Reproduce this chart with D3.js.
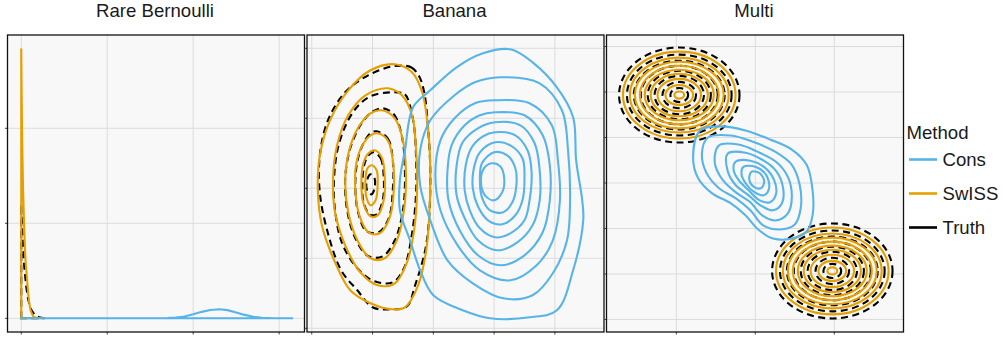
<!DOCTYPE html>
<html>
<head>
<meta charset="utf-8">
<script src="https://cdn.jsdelivr.net/npm/d3@7"></script>
<style>
  body { margin: 0; background: #ffffff; }
  text { font-family: "Liberation Sans", Arial, Helvetica, sans-serif; }
</style>
</head>
<body>
<svg id="chart" width="1003" height="337"></svg>
<script>
// ---- methods / legend ----
const methods = ["Cons", "SwISS", "Truth"];
const methodColors = ["#56B4E9", "#E69F00", "#000000"];
const panelTitles = ["Rare Bernoulli", "Banana", "Multi"];

// ---- Rare Bernoulli: 1-D density estimates ----
const rbTruthX = [0, 0.01, 0.02, 0.03, 0.04, 0.06, 0.08, 0.10, 0.12, 0.15, 0.18, 0.22, 0.26];
const rbTruthD = [12, 9.6, 7.7, 6.1, 4.9, 3.2, 2.0, 1.3, 0.83, 0.43, 0.22, 0.07, 0.02];
const rbSwissX = [0, 0.004, 0.01, 0.02, 0.03, 0.04, 0.05, 0.063, 0.08, 0.093, 0.11, 0.14, 0.18, 0.25];
const rbSwissD = [28.4, 24, 19, 14, 10.8, 8.0, 6.0, 4.6, 2.7, 1.6, 0.8, 0.17, 0.04, 0.01];
const rbConsX = [0, 0.5, 1.0, 1.5, 1.7, 1.8, 1.9, 2.0, 2.1, 2.2, 2.3, 2.4, 2.5, 2.6, 2.7, 2.8, 2.9, 3.0, 3.15];
const rbConsD = [0.005, 0.005, 0.005, 0.01, 0.03, 0.08, 0.2, 0.42, 0.68, 0.88, 0.95, 0.86, 0.62, 0.36, 0.16, 0.06, 0.02, 0.005, 0.003];
const rbXTicks = [0, 1, 2, 3];
const rbYTicks = [0, 10, 20];

// ---- Banana: 2-D density contour levels, one closed ring per level ----
const bananaCons = [
  [[76,139],[98,126],[122,101],[138,71],[141,28],[147,-12],[148,-32],[138,-82],[122,-122],[95,-129],[56,-130],[29,-122],[0,-107],[-13,-82],[-23,-52],[-33,-22],[-33,8],[-28,38],[-20,81],[-3,98],[23,121],[49,135]],
  [[66,111],[105,105],[127,78],[133,38],[135,-12],[132,-52],[118,-85],[98,-107],[69,-110],[39,-95],[14,-72],[-3,-32],[-13,3],[-13,38],[-3,68],[21,93],[41,106]],
  [[61,88],[95,85],[117,63],[123,28],[125,-12],[118,-52],[102,-77],[76,-92],[46,-82],[24,-57],[7,-22],[2,13],[7,48],[21,70],[41,85]],
  [[61,76],[90,73],[108,53],[115,23],[115,-12],[108,-44],[90,-67],[66,-77],[44,-67],[26,-42],[15,-12],[14,18],[18,43],[31,63],[46,73]],
  [[61,66],[86,63],[100,45],[105,18],[105,-12],[98,-37],[83,-54],[63,-62],[44,-52],[31,-30],[23,-7],[23,23],[29,46],[44,60]],
  [[61,56],[81,53],[93,38],[97,16],[95,-12],[90,-32],[76,-45],[61,-49],[46,-40],[36,-22],[31,-2],[32,23],[38,41],[49,52]],
  [[61,46],[76,43],[88,30],[90,10],[88,-12],[81,-27],[68,-36],[54,-32],[44,-18],[39,0],[40,20],[46,36]],
  [[60,36],[73,33],[81,20],[82,3],[78,-14],[69,-24],[56,-22],[48,-9],[46,8],[48,25]],
  [[58,25],[66,22],[70,10],[68,-4],[60,-12],[51,-7],[47,6],[50,20]]
];
const bananaSwiss = [
  [[-38,124],[-21,116],[-11,96],[-5,58],[-3,18],[-4,-27],[-7,-62],[-15,-97],[-28,-119],[-41,-121],[-62,-115],[-82,-102],[-97,-74],[-110,-37],[-114,-2],[-112,33],[-102,68],[-84,98],[-62,118]],
  [[-45,100],[-31,93],[-21,73],[-17,38],[-16,-2],[-19,-42],[-26,-74],[-38,-95],[-55,-97],[-72,-84],[-87,-57],[-97,-24],[-99,8],[-95,43],[-84,73],[-67,93]],
  [[-51,78],[-38,70],[-30,48],[-27,13],[-29,-22],[-36,-52],[-48,-70],[-62,-70],[-75,-52],[-84,-24],[-87,8],[-83,38],[-74,61],[-62,75]],
  [[-55,55],[-45,48],[-40,28],[-39,-2],[-43,-29],[-53,-45],[-64,-44],[-73,-27],[-77,-2],[-76,25],[-70,43],[-62,53]],
  [[-58,38],[-51,31],[-48,13],[-49,-12],[-55,-27],[-62,-28],[-69,-15],[-71,6],[-69,25],[-64,35]],
  [[-61,23],[-56,18],[-55,3],[-57,-12],[-62,-17],[-66,-9],[-67,8],[-65,20]]
];
const bananaTruth = [
  [[-40,122],[-22,121],[-14,112],[-9,96],[-5,58],[-3,18],[-4,-27],[-8,-62],[-18,-97],[-26,-118],[-43,-121],[-60,-119],[-75,-102],[-91,-82],[-104,-45],[-112,-5],[-112,33],[-104,68],[-87,96],[-66,112]],
  [[-42,96],[-28,94],[-24,86],[-19,62],[-17,30],[-17,-5],[-21,-45],[-29,-80],[-40,-94],[-58,-93],[-75,-80],[-90,-55],[-97,-22],[-98,10],[-93,45],[-80,75],[-64,91]],
  [[-50,80],[-39,74],[-31,52],[-28,15],[-30,-22],[-38,-52],[-50,-68],[-64,-68],[-77,-50],[-85,-22],[-87,10],[-82,40],[-72,63],[-61,76]],
  [[-56,57],[-45,50],[-40,28],[-40,-2],[-44,-30],[-54,-44],[-66,-43],[-74,-25],[-77,0],[-75,27],[-69,45],[-62,55]],
  [[-59,36],[-52,30],[-49,12],[-50,-12],[-56,-26],[-63,-26],[-69,-13],[-70,6],[-68,24],[-64,33]],
  [[-62,14],[-58,10],[-58,0],[-61,-6],[-65,-3],[-66,6]]
];
const bananaXTicks = [-120, -60, 0, 60, 120];
const bananaYTicks = [-140, -70, 0, 70, 140];

// ---- Multi: two well separated modes plus the consensus blob ----
const multiCons = [
  [[-56,52],[-35,56],[-10,52],[15,43],[37,33],[52,18],[58,-7],[58,-32],[52,-48],[37,-55],[18,-55],[3,-46],[-10,-32],[-25,-20],[-44,-10],[-58,5],[-63,25]],
  [[-48,45],[-25,47],[-3,41],[20,31],[37,18],[45,-2],[46,-25],[40,-41],[25,-46],[8,-42],[-5,-27],[-20,-15],[-37,-5],[-50,11],[-54,30]],
  [[-37,37],[-17,38],[2,31],[21,21],[33,6],[37,-14],[33,-30],[21,-37],[7,-32],[-5,-19],[-20,-9],[-33,3],[-41,20]],
  [[-28,29],[-10,30],[7,23],[21,12],[28,-4],[27,-20],[18,-27],[5,-22],[-7,-12],[-20,-2],[-28,12]],
  [[-20,21],[-5,22],[10,15],[19,3],[21,-11],[15,-19],[4,-17],[-7,-7],[-17,3],[-22,13]],
  [[-12,16],[0,16],[11,8],[14,-5],[9,-12],[-1,-9],[-10,0],[-14,9]],
  [[-4,11],[4,10],[9,2],[6,-5],[-1,-4],[-6,3]]
];
// mode centres and elliptical contour radii
const multiModeX = [-77, 78];
const multiModeY = [87, -87];
const multiSwissRx = [57, 50, 45, 40, 35, 29, 22, 14, 5];
const multiSwissRy = [43, 37, 33, 29, 25, 21, 16, 10, 3.5];
const multiTruthRx = [61, 53, 46, 39, 32, 25, 17, 9];
const multiTruthRy = [47, 40, 34, 29, 24, 19, 13, 7];
const multiXTicks = [-80, 0, 80];
const multiYTicks = [-135, -90, -45, 0, 45, 90, 135];

// ---- layout ----
const W = 1003, H = 337;
const panelLeft = [7.5, 307, 606.5];
const panelTop = 35, panelSize = 297;
const lineW = 2.1;
const dash = "7,4.5";

const svg = d3.select("#chart");
const defs = svg.append("defs");

function makePanel(i, xDomain, yDomain, xTicks, yTicks) {
  const x0 = panelLeft[i];
  const x = d3.scaleLinear().domain(xDomain).range([x0, x0 + panelSize]);
  const y = d3.scaleLinear().domain(yDomain).range([panelTop + panelSize, panelTop]);
  const g = svg.append("g");
  g.append("rect")
    .attr("x", x0).attr("y", panelTop)
    .attr("width", panelSize).attr("height", panelSize)
    .attr("fill", "#f8f8f8");
  g.selectAll(".vg").data(xTicks).join("line")
    .attr("x1", d => x(d)).attr("x2", d => x(d))
    .attr("y1", panelTop).attr("y2", panelTop + panelSize)
    .attr("stroke", "#dcdcdc").attr("stroke-width", 1);
  g.selectAll(".hg").data(yTicks).join("line")
    .attr("y1", d => y(d)).attr("y2", d => y(d))
    .attr("x1", x0).attr("x2", x0 + panelSize)
    .attr("stroke", "#dcdcdc").attr("stroke-width", 1);
  // short axis ticks just outside the panel
  g.selectAll(".xt").data(xTicks).join("line")
    .attr("x1", d => x(d)).attr("x2", d => x(d))
    .attr("y1", panelTop + panelSize).attr("y2", panelTop + panelSize + 2.5)
    .attr("stroke", "#444").attr("stroke-width", 1);
  g.selectAll(".yt").data(yTicks).join("line")
    .attr("y1", d => y(d)).attr("y2", d => y(d))
    .attr("x1", x0 - 2.5).attr("x2", x0)
    .attr("stroke", "#444").attr("stroke-width", 1);
  defs.append("clipPath").attr("id", "clip" + i)
    .append("rect").attr("x", x0).attr("y", panelTop)
    .attr("width", panelSize).attr("height", panelSize);
  const plot = svg.append("g").attr("clip-path", `url(#clip${i})`);
  svg.append("text")
    .attr("x", x0 + panelSize / 2 - 1).attr("y", 17)
    .attr("text-anchor", "middle")
    .attr("font-size", 18.6).attr("fill", "#1a1a1a")
    .text(panelTitles[i]);
  return { x, y, plot, x0 };
}

function frame(p) {
  svg.append("rect")
    .attr("x", p.x0).attr("y", panelTop)
    .attr("width", panelSize).attr("height", panelSize)
    .attr("fill", "none").attr("stroke", "#111").attr("stroke-width", 1.3);
}

// ---- panel 1: Rare Bernoulli ----
const p1 = makePanel(0, [-0.16, 3.295], [-1.44, 29.82], rbXTicks, rbYTicks);
function densityPath(xs, ds) {
  const pts = xs.map((v, k) => [v, ds[k]]);
  const ring = [[xs[0], 0], ...pts, [xs[xs.length - 1], 0]];
  return d3.line().x(d => p1.x(d[0])).y(d => p1.y(d[1]))(ring) + "Z";
}
p1.plot.append("path").attr("d", densityPath(rbTruthX, rbTruthD))
  .attr("fill", "none").attr("stroke", methodColors[2]).attr("stroke-width", lineW)
  .attr("stroke-dasharray", dash);
p1.plot.append("path").attr("d", densityPath(rbSwissX, rbSwissD))
  .attr("fill", "none").attr("stroke", methodColors[1]).attr("stroke-width", lineW);
p1.plot.append("path").attr("d", densityPath(rbConsX, rbConsD))
  .attr("fill", "none").attr("stroke", methodColors[0]).attr("stroke-width", lineW);
frame(p1);

// ---- panel 2: Banana ----
const p2 = makePanel(1, [-124.7, 168.5], [-143.7, 153.3], bananaXTicks, bananaYTicks);
const ringLine2 = d3.line().x(d => p2.x(d[0])).y(d => p2.y(d[1]))
  .curve(d3.curveCatmullRomClosed.alpha(0.5));
p2.plot.selectAll(".truth").data(bananaTruth).join("path")
  .attr("d", ringLine2).attr("fill", "none")
  .attr("stroke", methodColors[2]).attr("stroke-width", lineW).attr("stroke-dasharray", dash);
p2.plot.selectAll(".swiss").data(bananaSwiss).join("path")
  .attr("d", ringLine2).attr("fill", "none")
  .attr("stroke", methodColors[1]).attr("stroke-width", lineW);
p2.plot.selectAll(".cons").data(bananaCons).join("path")
  .attr("d", ringLine2).attr("fill", "none")
  .attr("stroke", methodColors[0]).attr("stroke-width", lineW);
frame(p2);

// ---- panel 3: Multi ----
const p3 = makePanel(2, [-150.7, 150.1], [-147.4, 146.4], multiXTicks, multiYTicks);
const ringLine3 = d3.line().x(d => p3.x(d[0])).y(d => p3.y(d[1]))
  .curve(d3.curveCatmullRomClosed.alpha(0.5));
const kx = Math.abs(p3.x(1) - p3.x(0)), ky = Math.abs(p3.y(1) - p3.y(0));
multiModeX.forEach((mx, m) => {
  p3.plot.selectAll(".truth" + m).data(multiTruthRx).join("ellipse")
    .attr("cx", p3.x(mx)).attr("cy", p3.y(multiModeY[m]))
    .attr("rx", d => d * kx).attr("ry", (d, k) => multiTruthRy[k] * ky)
    .attr("fill", "none").attr("stroke", methodColors[2])
    .attr("stroke-width", lineW).attr("stroke-dasharray", dash);
});
multiModeX.forEach((mx, m) => {
  p3.plot.selectAll(".swiss" + m).data(multiSwissRx).join("ellipse")
    .attr("cx", p3.x(mx)).attr("cy", p3.y(multiModeY[m]))
    .attr("rx", d => d * kx).attr("ry", (d, k) => multiSwissRy[k] * ky)
    .attr("fill", "none").attr("stroke", methodColors[1]).attr("stroke-width", lineW);
});
p3.plot.selectAll(".cons").data(multiCons).join("path")
  .attr("d", ringLine3).attr("fill", "none")
  .attr("stroke", methodColors[0]).attr("stroke-width", lineW);
frame(p3);

// ---- legend ----
const legend = svg.append("g");
legend.append("text").attr("x", 906.5).attr("y", 138.5)
  .attr("font-size", 18.6).attr("fill", "#1a1a1a").text("Method");
methods.forEach((m, k) => {
  const cy = 159.5 + k * 34;
  legend.append("line").attr("x1", 909).attr("x2", 937)
    .attr("y1", cy).attr("y2", cy)
    .attr("stroke", methodColors[k]).attr("stroke-width", 2.6);
  legend.append("text").attr("x", 942.5).attr("y", cy + 6.8)
    .attr("font-size", 18.6).attr("fill", "#1a1a1a").text(m);
});
</script>
</body>
</html>
